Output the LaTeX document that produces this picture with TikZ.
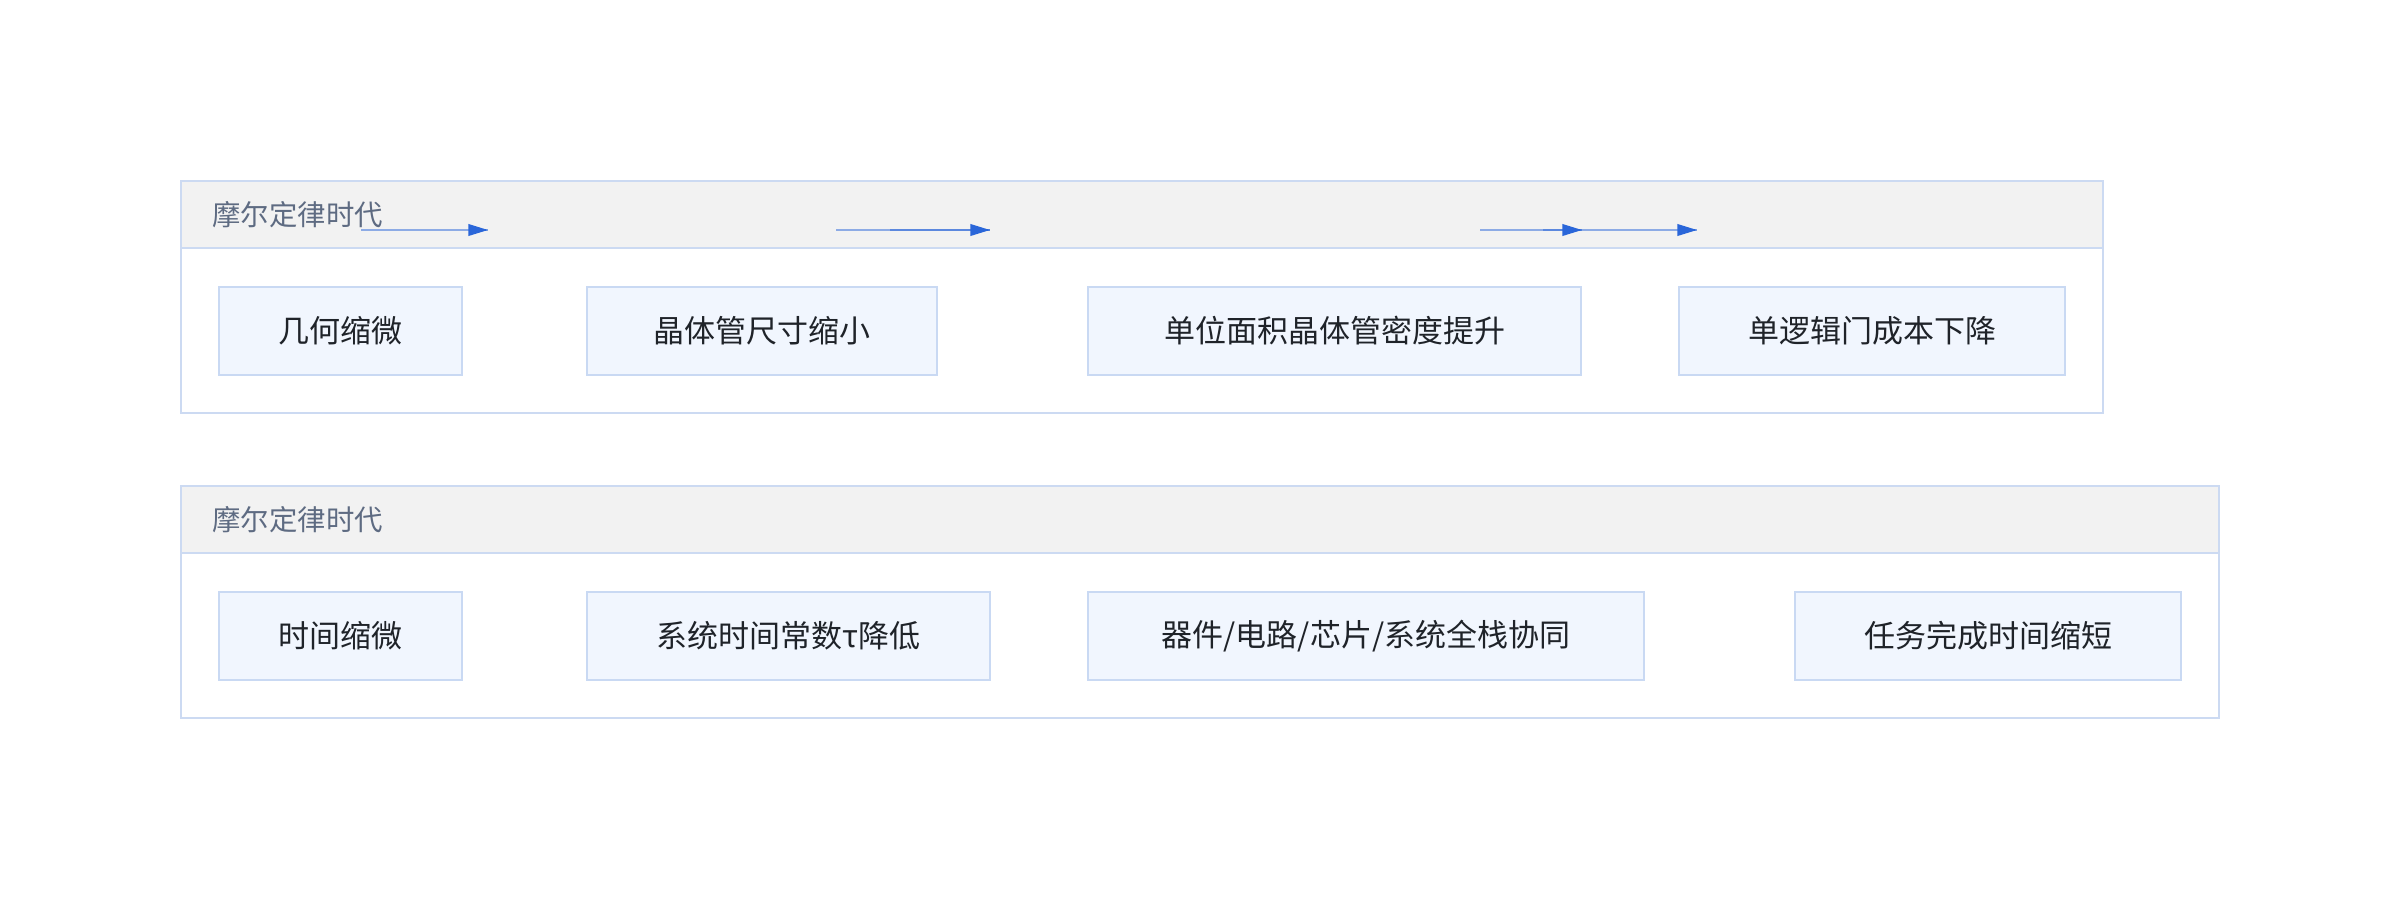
\documentclass[tikz,border=0pt]{standalone}
\usepackage{fontspec}
\setmainfont{Noto Sans CJK SC}
\usetikzlibrary{arrows.meta,fit,calc}
\definecolor{framecol}{HTML}{CCDAF2}
\definecolor{hdrfill}{HTML}{F2F2F2}
\definecolor{boxfill}{HTML}{F1F6FE}
\definecolor{boxline}{HTML}{C9D9F3}
\definecolor{txtcol}{HTML}{1F2329}
\definecolor{lblcol}{HTML}{5E6B82}
\definecolor{arrcol}{HTML}{2A66D9}
\begin{document}
\begin{tikzpicture}[x=0.5pt,y=-0.5pt,
  frame/.style={draw=framecol, line width=1pt, fill=white, inner sep=0pt},
  hdr/.style={fill=hdrfill},
  sepline/.style={draw=framecol, line width=1pt},
  stepbox/.style={draw=boxline, line width=1pt, fill=boxfill, inner sep=0pt,
    minimum height=44pt, text=txtcol, font=\fontsize{15.5pt}{18pt}\selectfont},
  lbl/.style={text=lblcol, font=\fontsize{14.2pt}{17pt}\selectfont, inner sep=0pt, anchor=west},
  flowline/.style={draw=arrcol, draw opacity=0.5, line width=0.9pt},
  flowtip/.style={draw=arrcol, line width=0.9pt, -{Triangle[length=9.8pt,width=5.8pt]}}
]
\useasboundingbox (0,0) rectangle (2400,900);
\fill[white] (0,0) rectangle (2400,900);

% ---------- frame 1 ----------
\node[frame, fit={(181,181)(2103,413)}] (f1) {};
\fill[hdr] (181,181) rectangle (2103,248);
\draw[sepline] (181,248) -- (2103,248);
\draw[draw=framecol, line width=1pt] (181,181) rectangle (2103,413);
\node[lbl] (t1) at (212,215) {摩尔定律时代};

\node[stepbox, minimum width=121.5pt] (a1) at (340.5,331) {几何缩微};
\node[stepbox, minimum width=175pt]   (a2) at (762,331)   {晶体管尺寸缩小};
\node[stepbox, minimum width=246.5pt] (a3) at (1334.5,331) {单位面积晶体管密度提升};
\node[stepbox, minimum width=193pt]   (a4) at (1872,331)  {单逻辑门成本下降};

% arrows in header 1
\coordinate (p1s) at (361,230);  \coordinate (p1e) at (488,230);
\coordinate (p2s) at (836,230);  \coordinate (p2m) at (890,230); \coordinate (p2e) at (990,230);
\coordinate (p3s) at (1480,230); \coordinate (p3e) at (1582,230);
\coordinate (p4s) at (1543,230); \coordinate (p4e) at (1697,230);

\draw[flowline] (p1s) -- (p1e);
\draw[flowline] (p2s) -- (p2e);
\draw[flowline] (p2m) -- (p2e);
\draw[flowline] (p3s) -- (p3e);
\draw[flowline] (p4s) -- (p4e);
\draw[flowtip] ($(p1e)+(-2,0)$) -- (p1e);
\draw[flowtip] ($(p2e)+(-2,0)$) -- (p2e);
\draw[flowtip] ($(p3e)+(-2,0)$) -- (p3e);
\draw[flowtip] ($(p4e)+(-2,0)$) -- (p4e);

% ---------- frame 2 ----------
\node[frame, fit={(181,486)(2219,718)}] (f2) {};
\fill[hdr] (181,486) rectangle (2219,553);
\draw[sepline] (181,553) -- (2219,553);
\draw[draw=framecol, line width=1pt] (181,486) rectangle (2219,718);
\node[lbl] (t2) at (212,520) {摩尔定律时代};

\node[stepbox, minimum width=121.5pt] (b1) at (340.5,636) {时间缩微};
\node[stepbox, minimum width=201.5pt] (b2) at (788.5,636) {系统时间常数τ降低};
\node[stepbox, minimum width=278pt]   (b3) at (1366,636)  {器件/电路/芯片/系统全栈协同};
\node[stepbox, minimum width=193pt]   (b4) at (1988,636)  {任务完成时间缩短};
\end{tikzpicture}
\end{document}
